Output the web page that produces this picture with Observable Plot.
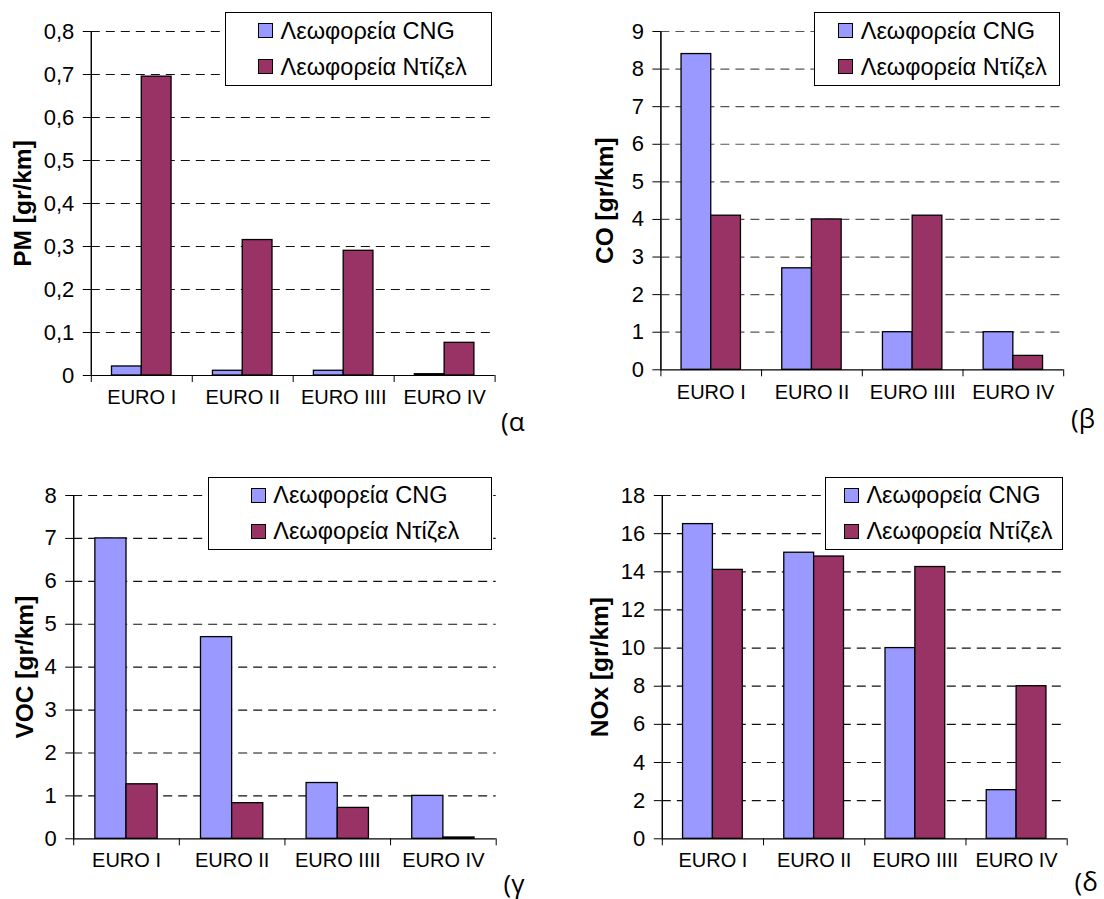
<!DOCTYPE html>
<html><head><meta charset="utf-8">
<script src="https://cdn.jsdelivr.net/npm/d3@7"></script>
<script src="https://cdn.jsdelivr.net/npm/@observablehq/plot@0.6"></script>
<style>
body{margin:0;background:#fff;}
#wrap{position:relative;width:1104px;height:899px;font-family:"Liberation Sans",Arial,sans-serif;color:#000;}
.panel{position:absolute;}
.legend{position:absolute;border:1px solid #000;background:#fff;box-sizing:border-box;}
.sw{position:absolute;width:15px;height:15px;border:1px solid #000;box-sizing:border-box;}
.lt{position:absolute;font-size:23.5px;line-height:26px;white-space:nowrap;}
.tag{position:absolute;font-family:"Open Sans",sans-serif;font-size:26px;line-height:30px;}
</style></head><body><div id="wrap"></div>
<script>
// ---- data ----
const categories = ["EURO I", "EURO II", "EURO IIII", "EURO IV"];
const seriesNames = ["Λεωφορεία CNG", "Λεωφορεία Ντίζελ"];
const seriesColors = ["#9999FF", "#993366"];

const pmCNG = [0.021, 0.011, 0.011, 0.003];
const pmDiesel = [0.695, 0.315, 0.29, 0.076];
const pmTicks = [0, 0.1, 0.2, 0.3, 0.4, 0.5, 0.6, 0.7, 0.8];

const coCNG = [8.4, 2.7, 1.0, 1.0];
const coDiesel = [4.1, 4.0, 4.1, 0.37];
const coTicks = [0, 1, 2, 3, 4, 5, 6, 7, 8, 9];

const vocCNG = [7.0, 4.7, 1.3, 1.0];
const vocDiesel = [1.27, 0.83, 0.72, 0.03];
const vocTicks = [0, 1, 2, 3, 4, 5, 6, 7, 8];

const noxCNG = [16.5, 15.0, 10.0, 2.55];
const noxDiesel = [14.1, 14.8, 14.25, 8.0];
const noxTicks = [0, 2, 4, 6, 8, 10, 12, 14, 16, 18];

const yTitles = ["PM [gr/km]", "CO [gr/km]", "VOC [gr/km]", "NOx [gr/km]"];
const tags = ["(α", "(β", "(γ", "(δ"];

// ---- layout ----
const wrap = document.getElementById("wrap");
const commaFmt = d => String(d).replace(".", ",");

function panel(o) {
  const rows = categories.map((c, i) => ({cat: c, i, cng: o.cng[i], diesel: o.diesel[i]}));
  const max = o.ticks[o.ticks.length - 1];
  const chart = Plot.plot({
    width: 552, height: o.h,
    marginLeft: o.ml, marginRight: o.mr, marginTop: o.mt, marginBottom: o.mb,
    style: {fontFamily: '"Liberation Sans", Arial, sans-serif', fontSize: "22px", color: "#000", background: "transparent", overflow: "visible"},
    x: {domain: [0, 4], ticks: [0, 1, 2, 3, 4], tickFormat: () => "", tickSize: 7, label: null},
    y: {domain: [0, max], ticks: o.ticks, tickFormat: o.fmt, tickSize: 8, tickPadding: 9, label: null, line: true},
    marks: [
      Plot.ruleY(o.ticks.filter(t => t > 0), {stroke: o.grid, strokeWidth: 1.2, strokeDasharray: "9,6"}),
      Plot.rectY(rows, {x1: d => d.i + 0.205, x2: d => d.i + 0.5, y1: 0, y2: "cng", fill: seriesColors[0], stroke: "#000", strokeWidth: 1.3}),
      Plot.rectY(rows, {x1: d => d.i + 0.5, x2: d => d.i + 0.795, y1: 0, y2: "diesel", fill: seriesColors[1], stroke: "#000", strokeWidth: 1.3}),
      Plot.ruleY([0], {stroke: "#000", strokeWidth: 1.2}),
      Plot.ruleX([0], {stroke: "#000", strokeWidth: 1.2}),
      Plot.text(rows, {x: d => d.i + 0.5, text: "cat", frameAnchor: "bottom", dy: o.catDy, fontSize: 20}),
      Plot.text([o.title], {frameAnchor: "left", rotate: -90, dx: o.titleDx, fontSize: 24.5, fontWeight: "bold", textAnchor: "middle"})
    ]
  });
  const div = document.createElement("div");
  div.className = "panel";
  div.style.left = o.left + "px";
  div.style.top = o.top + "px";
  div.appendChild(chart);
  wrap.appendChild(div);

  const lg = document.createElement("div");
  lg.className = "legend";
  lg.style.left = o.lg.x + "px"; lg.style.top = o.lg.y + "px";
  lg.style.width = o.lg.w + "px"; lg.style.height = o.lg.h + "px";
  seriesNames.forEach((name, k) => {
    const cy = k === 0 ? 18.6 : 54.6;
    const sw = document.createElement("div");
    sw.className = "sw";
    sw.style.left = (o.lg.sw - o.lg.x - 1) + "px";
    sw.style.top = (cy - 7.5 - 1) + "px";
    sw.style.background = seriesColors[k];
    const t = document.createElement("div");
    t.className = "lt";
    t.style.left = (o.lg.tx - o.lg.x - 1) + "px";
    t.style.top = (cy - 13 - 1) + "px";
    t.textContent = name;
    lg.appendChild(sw); lg.appendChild(t);
  });
  wrap.appendChild(lg);

  const tg = document.createElement("div");
  tg.className = "tag";
  tg.style.left = o.tag.x + "px";
  tg.style.top = (o.tag.cy - 15) + "px";
  tg.textContent = o.tagText;
  wrap.appendChild(tg);
}

panel({left: 0, top: 0, h: 440, ml: 90.8, mr: 57.4, mt: 31, mb: 65,
  cng: pmCNG, diesel: pmDiesel, ticks: pmTicks, fmt: commaFmt, grid: "#111",
  title: yTitles[0], titleDx: -68, catDy: 28,
  lg: {x: 225, y: 12, w: 267, h: 74, sw: 258, tx: 280.6},
  tag: {x: 501, cy: 421}, tagText: tags[0]});

panel({left: 552, top: 0, h: 440, ml: 108.4, mr: 40.8, mt: 31, mb: 70.7,
  cng: coCNG, diesel: coDiesel, ticks: coTicks, fmt: d => String(d), grid: "#555",
  title: yTitles[1], titleDx: -55.6, catDy: 29,
  lg: {x: 813.6, y: 12, w: 246, h: 74, sw: 838.2, tx: 860.7},
  tag: {x: 1071, cy: 418}, tagText: tags[1]});

panel({left: 0, top: 440, h: 459, ml: 73.2, mr: 56.3, mt: 55, mb: 60.7,
  cng: vocCNG, diesel: vocDiesel, ticks: vocTicks, fmt: d => String(d), grid: "#111",
  title: yTitles[2], titleDx: -48.6, catDy: 28.4,
  lg: {x: 208.4, y: 476.5, w: 284, h: 73, sw: 250.7, tx: 273.2},
  tag: {x: 503.5, cy: 883}, tagText: tags[2]});

panel({left: 552, top: 440, h: 459, ml: 109.8, mr: 37.3, mt: 55, mb: 60.7,
  cng: noxCNG, diesel: noxDiesel, ticks: noxTicks, fmt: d => String(d), grid: "#111",
  title: yTitles[3], titleDx: -62.3, catDy: 28.4,
  lg: {x: 824.8, y: 476.5, w: 238.5, h: 73, sw: 844.2, tx: 866.4},
  tag: {x: 1074.5, cy: 881}, tagText: tags[3]});
</script></body></html>
